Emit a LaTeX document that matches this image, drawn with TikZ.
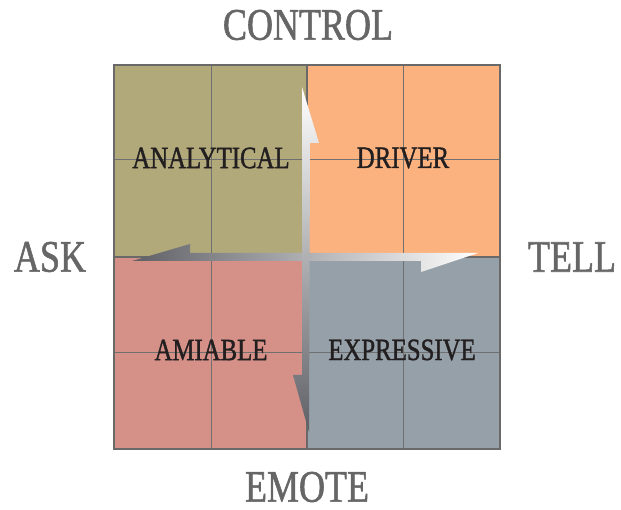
\documentclass[tikz,border=0pt]{standalone}
\usepackage{fontspec}
\setmainfont{Liberation Serif}
\newfontfamily\quadfont[FakeStretch=0.8,FakeBold=1.2]{Liberation Serif}
\usetikzlibrary{positioning,calc}
\definecolor{analyticfill}{RGB}{177,169,122}
\definecolor{driverfill}{RGB}{251,178,126}
\definecolor{amiablefill}{RGB}{213,144,135}
\definecolor{expressfill}{RGB}{149,160,168}
\definecolor{gridgray}{RGB}{112,112,112}
\definecolor{framegray}{RGB}{105,105,105}
\definecolor{axisgray}{RGB}{102,102,102}
\definecolor{labelblack}{RGB}{35,31,32}
\definecolor{arrowdark}{RGB}{95,96,102}

\begin{document}
\begin{tikzpicture}[x=1pt,y=-1pt]
      \tikzstyle{axislbl}=[font=\quadfont\fontsize{45}{45}\selectfont,text=axisgray,inner sep=0pt]
      \tikzstyle{quadlbl}=[font=\quadfont\fontsize{31}{31}\selectfont,text=labelblack,inner sep=0pt]
      \useasboundingbox (0,0) rectangle (621,510);
      % quadrant fills
      \fill[analyticfill] (114,65) rectangle (307,257);
      \fill[driverfill] (307,65) rectangle (500,257);
      \fill[amiablefill] (114,257) rectangle (307,449);
      \fill[expressfill] (307,257) rectangle (500,449);
      % inner grid
      \draw[gridgray,line width=1pt] (211,65) -- (211,449);
      \draw[gridgray,line width=1pt] (403,65) -- (403,449);
      \draw[gridgray,line width=1pt] (114,160) -- (500,160);
      \draw[gridgray,line width=1pt] (114,353) -- (500,353);
      \draw[framegray,line width=2pt] (307,65) -- (307,449);
      \draw[framegray,line width=2pt] (114,257) -- (500,257);
      % half-barbed arrows
      \shade[left color=arrowdark,right color=white]
        (132,261) -- (190,244) -- (190,253) -- (478,253) -- (421,272) -- (421,261) -- cycle;
      \shade[top color=white,bottom color=arrowdark]
        (302,87) -- (319,143) -- (310,143) -- (309,432) -- (293,375) -- (302,375) -- cycle;
      % frame
      \draw[framegray,line width=2.5pt] (114,65) rectangle (500,449);
      % quadrant names
      \node[quadlbl] (analytical) at (211,158) {ANALYTICAL};
      \node[quadlbl] (driver) at (403,158) {DRIVER};
      \node[quadlbl] (amiable) at (211,350) {AMIABLE};
      \node[quadlbl] (expressive) at (402,350) {EXPRESSIVE};
      % axis ends
      \node[axislbl] (control) at (308,25) {CONTROL};
      \node[axislbl] (emote) at (307,487) {EMOTE};
      \node[axislbl] (ask) at (50,257) {ASK};
      \node[axislbl] (tell) at (572,257) {TELL};
    \end{tikzpicture}
\end{document}
